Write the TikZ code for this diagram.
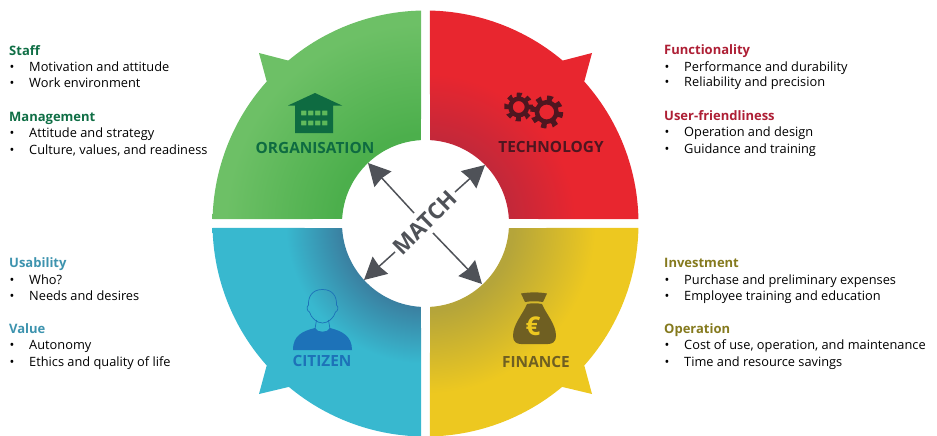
\documentclass[tikz,border=0pt]{standalone}
\usepackage{fontspec}
\setmainfont{Open Sans}
\usetikzlibrary{arrows.meta}
\definecolor{gA}{HTML}{4CAF4C}\definecolor{gB}{HTML}{6DC066}
\definecolor{rA}{HTML}{C2283A}\definecolor{rB}{HTML}{E8262F}
\definecolor{bA}{HTML}{3A7FA0}\definecolor{bB}{HTML}{38B8CF}
\definecolor{yA}{HTML}{B5A53A}\definecolor{yB}{HTML}{EDC820}
\definecolor{hGreen}{HTML}{0F6E45}\definecolor{hRed}{HTML}{AE1F35}
\definecolor{hBlue}{HTML}{3D93AE}\definecolor{hOlive}{HTML}{857A1E}
\definecolor{iGreen}{HTML}{0E6B41}\definecolor{iRed}{HTML}{4E1620}
\definecolor{iBlue}{HTML}{1D72B8}\definecolor{iOlive}{HTML}{6F5F22}
\definecolor{arrowgray}{HTML}{4F5258}
\pgfdeclareradialshading{shG}{\pgfpointorigin}{color(0bp)=(gA); color(9bp)=(gA); color(20bp)=(gB); color(50bp)=(gB)}
\pgfdeclareradialshading{shR}{\pgfpointorigin}{color(0bp)=(rA); color(8.3bp)=(rA); color(15bp)=(rB); color(50bp)=(rB)}
\pgfdeclareradialshading{shB}{\pgfpointorigin}{color(0bp)=(bA); color(8.3bp)=(bA); color(14bp)=(bB); color(50bp)=(bB)}
\pgfdeclareradialshading{shY}{\pgfpointorigin}{color(0bp)=(yA); color(8.8bp)=(yA); color(17bp)=(yB); color(50bp)=(yB)}
\tikzset{
 head/.style={font=\bfseries\fontsize{13}{15}\selectfont,anchor=base west,inner sep=0pt},
 item/.style={font=\fontsize{12.8}{14}\selectfont,anchor=base west,inner sep=0pt,text=black},
 bul/.style={font=\fontsize{12.8}{14}\selectfont,anchor=base,inner sep=0pt,text=black},
 quadlabel/.style={font=\bfseries\fontsize{15.4}{17}\selectfont,inner sep=0pt},
 matcharrow/.style={arrowgray,line width=1.5pt,-{Stealth[length=22pt,width=23pt,inset=1.5pt]},shorten >=0pt},
}
% name, x of bullet, x of text, baseline y, text
\newcommand{\bulline}[5]{\node[bul] (#1b) at (#2,#4) {•}; \node[item] (#1) at (#3,#4) {#5};}
\newcommand{\qfill}[2]{\begin{scope}\clip #2; \shade[shading=#1] (-250,-250) rectangle (250,250);\end{scope}}
\newcommand{\gearicon}[6]{% x y holeR bodyR toothOutR rotate
 \pgfmathsetmacro{\ringr}{(#3+#4)/2}\pgfmathsetmacro{\ringw}{#4-#3}
 \pgfmathsetmacro{\tr}{(#4+#5)/2-0.3}\pgfmathsetmacro{\tw}{#5-#4+0.6}\pgfmathsetmacro{\dd}{2*pi*\tr/16}
 \draw[iRed,line width=\ringw pt] (#1,#2) circle (\ringr);
 \draw[iRed,line width=\tw pt,dash pattern=on \dd pt off \dd pt,rotate around={#6:(#1,#2)}] (#1,#2) circle (\tr);
}
\begin{document}
\begin{tikzpicture}[x=1pt,y=-1pt]
\useasboundingbox (0,0) rectangle (937,436);
\begin{scope}[shift={(425.5,223.5)}]
\qfill{shG}{(181.2:213) arc[start angle=181.2,end angle=221.8,radius=213] -- (-166.5,-170.5) -- (229.9:213) arc[start angle=229.9,end angle=268.8,radius=213] -- (266.9:83.5) arc[start angle=266.9,end angle=183.1,radius=83.5] -- cycle}
\qfill{shR}{(271.2:213) arc[start angle=271.2,end angle=310.1,radius=213] -- (166.5,-170.5) -- (318.2:213) arc[start angle=318.2,end angle=358.8,radius=213] -- (356.9:83.5) arc[start angle=356.9,end angle=273.1,radius=83.5] -- cycle}
\qfill{shY}{(1.2:213) arc[start angle=1.2,end angle=41.8,radius=213] -- (166.5,170.5) -- (50.1:213) arc[start angle=50.1,end angle=88.8,radius=213] -- (86.9:83.5) arc[start angle=86.9,end angle=3.1,radius=83.5] -- cycle}
\qfill{shB}{(91.2:213) arc[start angle=91.2,end angle=129.9,radius=213] -- (-166.5,170.5) -- (138.2:213) arc[start angle=138.2,end angle=178.8,radius=213] -- (176.9:83.5) arc[start angle=176.9,end angle=93.1,radius=83.5] -- cycle}
\end{scope}
% house
\fill[iGreen,even odd rule] (315,93) -- (342,105.5) -- (333,105.5) -- (333,133) -- (295,133) -- (295,105.5) -- (288,105.5) -- cycle
 \foreach \yy in {110.5,120.5}{ \foreach \xx in {301,308,315,322}{ (\xx,\yy) rectangle ++(5.3,4.8) } };
% gears
\gearicon{518.7}{107}{6}{10.5}{14.5}{11}
\gearicon{546.7}{112}{7.5}{12}{16.5}{0}
% person
\fill[iBlue] (293,350) .. controls (293,335) and (303,331) .. (315,328) .. controls (317,333) and (328,333) .. (330,328) .. controls (342,331) and (352,336) .. (352,350) -- cycle;
\draw[iBlue,line width=0.7pt] (316.5,320) -- (315,329) (328.5,320) -- (330,329)
 (322.5,289.5) .. controls (312,289.5) and (308,297) .. (308.5,305) .. controls (306,307) and (307,311) .. (309.5,312) .. controls (311,318) and (317,323) .. (322.5,323) .. controls (328,323) and (334,318) .. (335.5,312) .. controls (338,311) and (339,307) .. (336.5,305) .. controls (337,297) and (333,289.5) .. (322.5,289.5) -- cycle;
% money bag
\fill[iOlive] (521,293.5) .. controls (530,292) and (539,292) .. (547,293.5) -- (543,302) .. controls (537,301) and (531,301) .. (525,302) -- cycle;
\fill[iOlive] (527,304) .. controls (532,303) and (537,303) .. (542,304) .. controls (546,314) and (556,324) .. (556,336) .. controls (556,342) and (552,344) .. (548,344) -- (521,344) .. controls (517,344) and (513,342) .. (513,336) .. controls (513,324) and (523,314) .. (527,304) -- cycle;
\node[font=\bfseries\fontsize{26}{27}\selectfont,text=yB,inner sep=0pt] (euro) at (533,326) {€};
% quadrant labels
\node[quadlabel,text=iGreen] (org) at (315,148) {ORGANISATION};
\node[quadlabel,text=iRed] (tech) at (551,147) {TECHNOLOGY};
\node[quadlabel,text=iBlue] (cit) at (322,361) {CITIZEN};
\node[quadlabel,text=iOlive] (fin) at (536,362) {FINANCE};
% centre
\node[font=\bfseries\fontsize{22.5}{24}\selectfont,text=arrowgray,rotate=45,inner sep=0pt] (match) at (425,223) {MATCH};
\coordinate (tl) at (368,163); \coordinate (tr) at (485,165); \coordinate (bl) at (364,280); \coordinate (br) at (482,284);
\coordinate (stl) at (414,213); \coordinate (str) at (455,192); \coordinate (sbl) at (395,252); \coordinate (sbr) at (433,233);
\draw[matcharrow] (stl) -- (tl);
\draw[matcharrow] (str) -- (tr);
\draw[matcharrow] (sbl) -- (bl);
\draw[matcharrow] (sbr) -- (br);
% texts
\node[head,text=hGreen] (staff) at (9,55.5) {Staff};
\bulline{s1}{12}{29}{72}{Motivation and attitude}
\bulline{s2}{12}{29}{88}{Work environment}
\node[head,text=hGreen] (mgmt) at (9,121.5) {Management};
\bulline{m1}{12}{29}{137}{Attitude and strategy}
\bulline{m2}{12}{29}{154}{Culture, values, and readiness}
\node[head,text=hRed] (func) at (664,54.5) {Functionality};
\bulline{f1}{667}{684}{71}{Performance and durability}
\bulline{f2}{667}{684}{87}{Reliability and precision}
\node[head,text=hRed] (user) at (664,120.5) {User-friendliness};
\bulline{u1}{667}{684}{136}{Operation and design}
\bulline{u2}{667}{684}{153}{Guidance and training}
\node[head,text=hBlue] (usab) at (9,267.5) {Usability};
\bulline{a1}{12}{29}{284}{Who?}
\bulline{a2}{12}{29}{300}{Needs and desires}
\node[head,text=hBlue] (val) at (9,333.5) {Value};
\bulline{v1}{12}{29}{349}{Autonomy}
\bulline{v2}{12}{29}{366}{Ethics and quality of life}
\node[head,text=hOlive] (inv) at (664,267.5) {Investment};
\bulline{i1}{667}{684}{284}{Purchase and preliminary expenses}
\bulline{i2}{667}{684}{300}{Employee training and education}
\node[head,text=hOlive] (oper) at (664,333.5) {Operation};
\bulline{o1}{667}{684}{349}{Cost of use, operation, and maintenance}
\bulline{o2}{667}{684}{366}{Time and resource savings}
\end{tikzpicture}
\end{document}
